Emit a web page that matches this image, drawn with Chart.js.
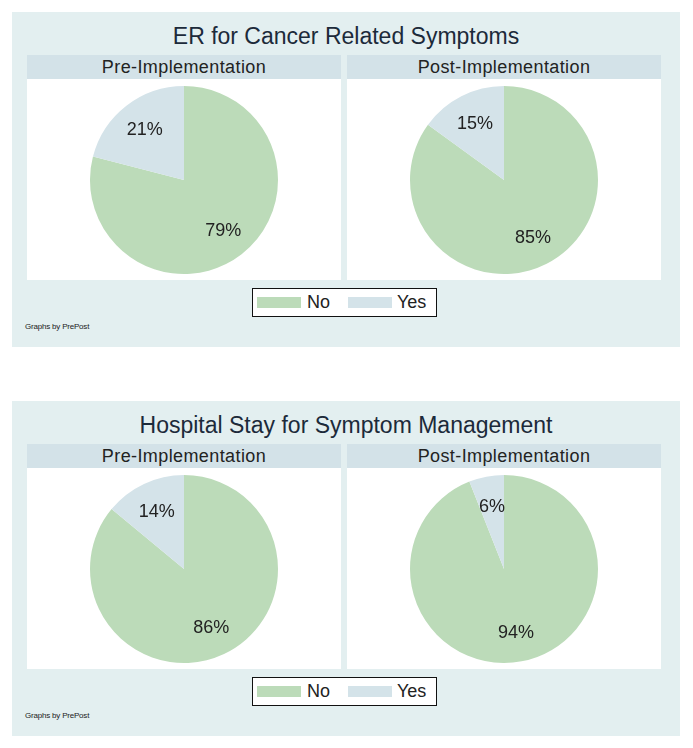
<!DOCTYPE html>
<html>
<head>
<meta charset="utf-8">
<script src="https://cdn.jsdelivr.net/npm/chart.js"></script>
<style>
  body { margin: 0; background: #fff; font-family: "Liberation Sans", Arial, sans-serif; color: #222; width: 693px; height: 748px; position: relative; }
  .panel { position: absolute; left: 12px; width: 668px; height: 335px; background: #e3eff0; }
  .title { position: absolute; left: 0; top: 13px; width: 100%; text-align: center; font-size: 23px; line-height: 23px; color: #1c2a3a; }
  .head { position: absolute; top: 43px; width: 314px; height: 24px; background: #d3e2e8; text-align: center; font-size: 18px; line-height: 24px; letter-spacing: 0.4px; }
  .plot { position: absolute; top: 67px; width: 314px; height: 201px; background: #fff; }
  .plot canvas { display: block; }
  .legend { position: absolute; left: 240px; top: 276px; width: 185px; height: 29px; border: 1.5px solid #111; background: #fff; box-sizing: border-box; }
  .sw { position: absolute; top: 8px; height: 11px; }
  .lt { position: absolute; top: 0; font-size: 18px; line-height: 27px; }
  .note { position: absolute; left: 13px; top: 310px; font-size: 8px; letter-spacing: -0.2px; color: #222; }
</style>
</head>
<body>
<div id="panels"></div>
<script>
// categories du camembert
const categories = ["No", "Yes"];
const catColors = ["#bcdbb9", "#d4e3e9"];
// sous-groupes (PrePost)
const groups = ["Pre-Implementation", "Post-Implementation"];
const titles = ["ER for Cancer Related Symptoms", "Hospital Stay for Symptom Management"];

// pourcentages
const erPre = [79, 21];
const erPost = [85, 15];
const stayPre = [86, 14];
const stayPost = [94, 6];

const panelData = [[erPre, erPost], [stayPre, stayPost]];
const panelTops = [12, 401];

// Ecriture des pourcentages dans chaque part
const pctLabels = {
  id: 'pctLabels',
  afterDatasetsDraw(chart) {
    const ctx = chart.ctx;
    const meta = chart.getDatasetMeta(0);
    ctx.save();
    ctx.font = '18px "Liberation Sans", Arial, sans-serif';
    ctx.fillStyle = '#222';
    ctx.textAlign = 'center';
    ctx.textBaseline = 'middle';
    meta.data.forEach((arc, i) => {
      const p = arc.getProps(['x', 'y', 'startAngle', 'endAngle', 'outerRadius'], true);
      const mid = (p.startAngle + p.endAngle) / 2;
      const r = p.outerRadius * 0.68;
      ctx.fillText(chart.data.datasets[0].data[i] + '%', p.x + Math.cos(mid) * r, p.y + Math.sin(mid) * r + 1);
    });
    ctx.restore();
  }
};

const holder = document.getElementById('panels');

titles.forEach((t, k) => {
  const panel = document.createElement('div');
  panel.className = 'panel';
  panel.style.top = panelTops[k] + 'px';

  const title = document.createElement('div');
  title.className = 'title';
  title.textContent = t;
  panel.appendChild(title);

  groups.forEach((g, j) => {
    const left = 15 + j * 320;
    const head = document.createElement('div');
    head.className = 'head';
    head.style.left = left + 'px';
    head.textContent = g;
    panel.appendChild(head);

    const plot = document.createElement('div');
    plot.className = 'plot';
    plot.style.left = left + 'px';
    const cv = document.createElement('canvas');
    cv.width = 314;
    cv.height = 201;
    plot.appendChild(cv);
    panel.appendChild(plot);

    new Chart(cv.getContext('2d'), {
      type: 'pie',
      data: {
        labels: categories,
        datasets: [{
          data: panelData[k][j],
          backgroundColor: catColors,
          borderWidth: 0
        }]
      },
      options: {
        responsive: false,
        animation: false,
        layout: { padding: { top: 7, bottom: 6 } },
        plugins: { legend: { display: false }, tooltip: { enabled: false } }
      },
      plugins: [pctLabels]
    });
  });

  // legende
  const leg = document.createElement('div');
  leg.className = 'legend';
  const swLeft = [4, 95];
  const txtLeft = [54, 144];
  categories.forEach((c, i) => {
    const sw = document.createElement('div');
    sw.className = 'sw';
    sw.style.left = swLeft[i] + 'px';
    sw.style.width = '44px';
    sw.style.background = catColors[i];
    leg.appendChild(sw);
    const lt = document.createElement('div');
    lt.className = 'lt';
    lt.style.left = txtLeft[i] + 'px';
    lt.textContent = c;
    leg.appendChild(lt);
  });
  panel.appendChild(leg);

  const note = document.createElement('div');
  note.className = 'note';
  note.textContent = 'Graphs by PrePost';
  panel.appendChild(note);

  holder.appendChild(panel);
});
</script>
</body>
</html>
